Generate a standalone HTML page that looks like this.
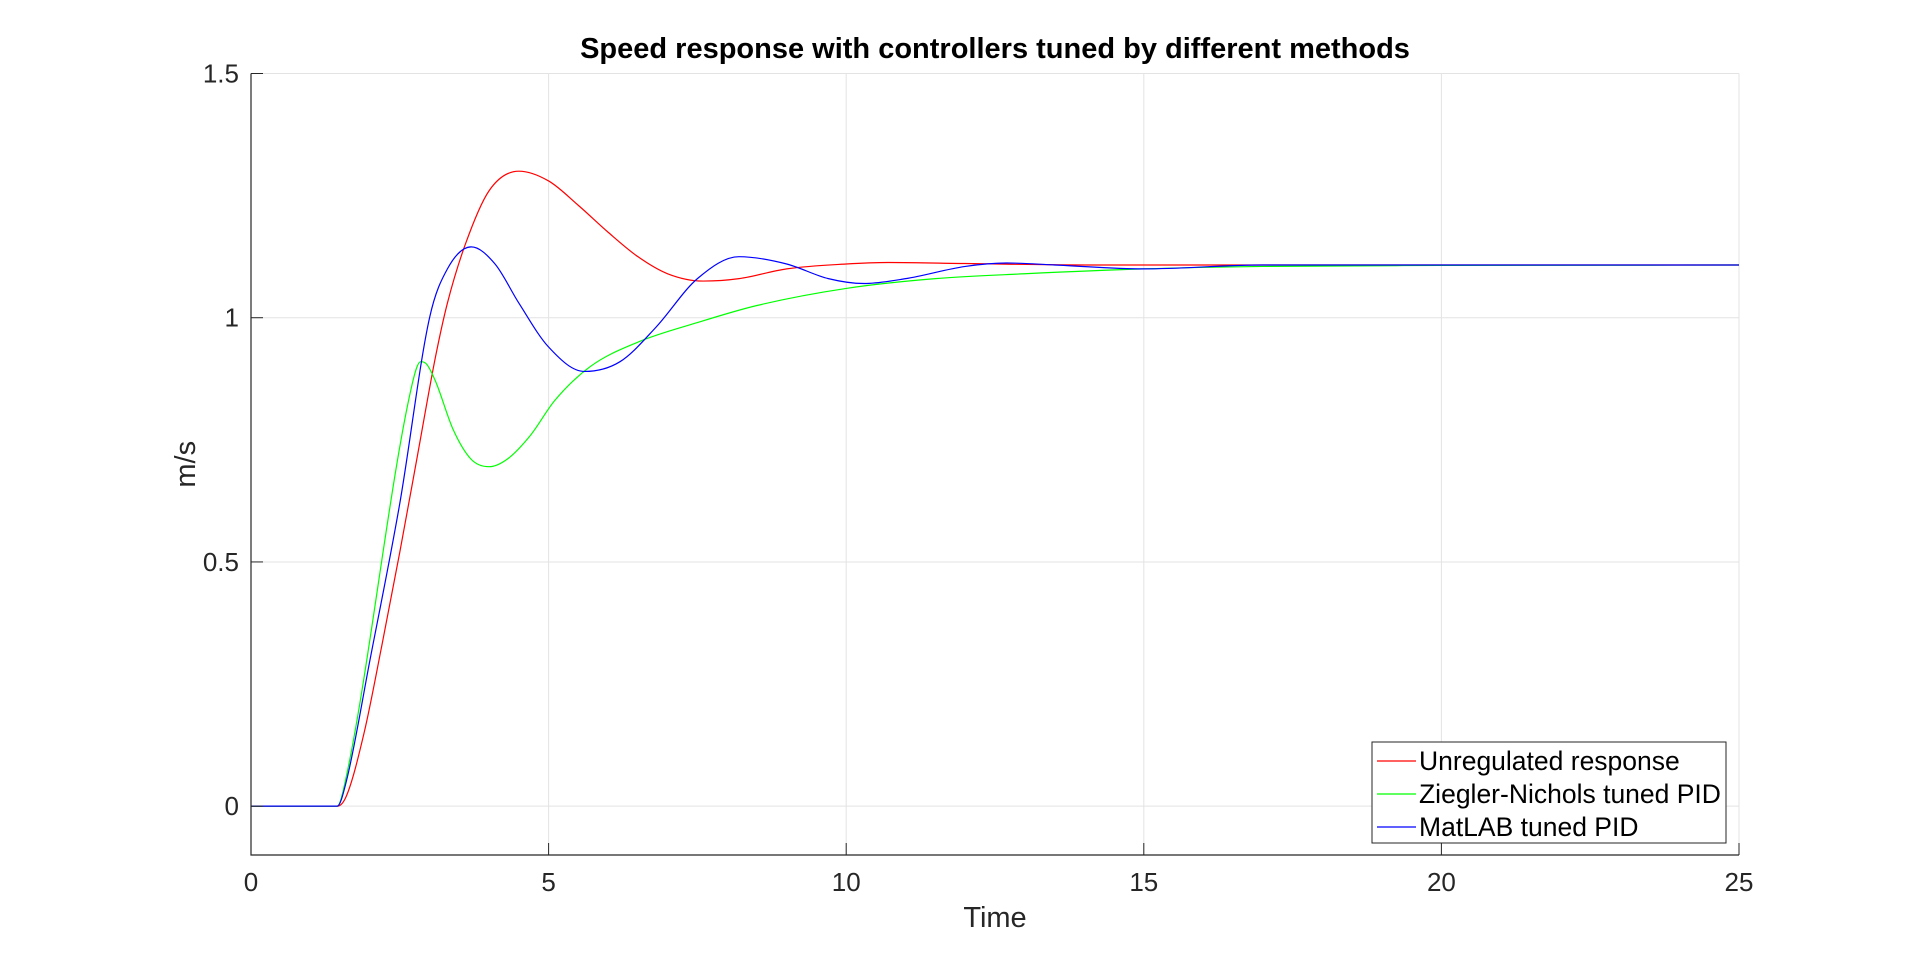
<!DOCTYPE html>
<html><head><meta charset="utf-8"><style>
html,body{margin:0;padding:0;background:#fff;}
svg{display:block;font-family:"Liberation Sans",Arial,sans-serif;}
</style></head><body>
<svg id="chart" width="1920" height="963" viewBox="0 0 1920 963"></svg>
<script>
const xTicks=[0,5,10,15,20,25];
const yTicks=[0,0.5,1,1.5];
const redT=[0,1.45,1.6,1.9,2.2,2.5,2.8,3.1,3.3,3.6,4.0,4.5,5.0,5.5,6.0,6.5,7.0,7.6,8.2,9,10,10.7,12,14,17,25];
const redV=[0,0,0.02,0.15,0.33,0.52,0.72,0.92,1.03,1.15,1.26,1.30,1.28,1.23,1.175,1.125,1.09,1.075,1.08,1.10,1.11,1.113,1.111,1.108,1.108,1.108];
const greenT=[0,1.45,1.6,2.7,2.85,2.95,3.1,3.4,3.7,4.0,4.3,4.7,5.1,5.7,6.5,7.5,8.5,10,11.5,13,15,17,20,25];
const greenV=[0,0,0.06,0.86,0.91,0.905,0.87,0.77,0.71,0.695,0.71,0.76,0.83,0.9,0.95,0.99,1.025,1.06,1.08,1.09,1.1,1.105,1.107,1.108];
const blueT=[0,1.45,1.6,2.0,2.5,3.0,3.3,3.7,4.1,4.5,5.0,5.6,6.2,6.8,7.5,8.2,9,9.7,10.3,11,12,12.7,13.5,15,17,25];
const blueV=[0,0,0.05,0.3,0.62,1.0,1.1,1.145,1.11,1.03,0.94,0.89,0.91,0.98,1.08,1.125,1.11,1.08,1.07,1.08,1.105,1.112,1.108,1.10,1.108,1.108];
const legendLabels=["Unregulated response","Ziegler-Nichols tuned PID","MatLAB tuned PID"];

const L=251,R=1739,T=73.5,B=855,xMin=0,xMax=25,yMin=-0.1,yMax=1.5;
const sx=v=>L+(v-xMin)/(xMax-xMin)*(R-L);
const sy=v=>B-(v-yMin)/(yMax-yMin)*(B-T);
const svg=document.getElementById('chart');
const NS='http://www.w3.org/2000/svg';
function mk(tag,attrs,parent){const e=document.createElementNS(NS,tag);for(const k in attrs)e.setAttribute(k,attrs[k]);(parent||svg).appendChild(e);return e;}

xTicks.forEach(t=>{const l=mk('line',{x1:sx(t),x2:sx(t),y1:T,y2:B,stroke:'#e3e3e3','stroke-width':1});

});
yTicks.forEach(t=>{const l=mk('line',{x1:L,x2:R,y1:sy(t),y2:sy(t),stroke:'#e3e3e3','stroke-width':1});

});

function path(ts,vs){
  const n=ts.length,x=ts.map(sx),y=vs.map(sy);
  const d=[],m=new Array(n);
  for(let i=0;i<n-1;i++)d.push((y[i+1]-y[i])/(x[i+1]-x[i]));
  m[0]=d[0];m[n-1]=d[n-2];
  for(let i=1;i<n-1;i++){m[i]=(d[i-1]*d[i]<=0)?0:(d[i-1]+d[i])/2;}
  for(let i=0;i<n-1;i++){
    if(d[i]===0){m[i]=0;m[i+1]=0;continue;}
    const a=m[i]/d[i],b=m[i+1]/d[i],s=a*a+b*b;
    if(s>9){const t=3/Math.sqrt(s);m[i]=t*a*d[i];m[i+1]=t*b*d[i];}
  }
  let p='M'+x[0]+','+y[0];
  for(let i=0;i<n-1;i++){
    const h=(x[i+1]-x[i])/3;
    p+=` C${x[i]+h},${y[i]+m[i]*h} ${x[i+1]-h},${y[i+1]-m[i+1]*h} ${x[i+1]},${y[i+1]}`;
  }
  return p;
}
const clip=mk('clipPath',{id:'pc'});mk('rect',{x:L,y:T,width:R-L,height:B-T},clip);
const series=[[redT,redV,'#ff0000','red-unregulated-line'],[greenT,greenV,'#00ff00','green-zn-pid-line'],[blueT,blueV,'#0000ff','blue-matlab-pid-line']];
series.forEach(s=>{const e=mk('path',{d:path(s[0],s[1]),fill:'none',stroke:s[2],'stroke-width':1.2,'clip-path':'url(#pc)'});

});

const ax=mk('path',{d:`M${L},${T} V${B} H${R}`,fill:'none',stroke:'#262626','stroke-width':1.2});


xTicks.forEach(t=>{
  mk('line',{x1:sx(t),x2:sx(t),y1:B,y2:B-12,stroke:'#262626'});
  const tx=mk('text',{x:sx(t),y:B+36,'text-anchor':'middle','font-size':26,fill:'#262626'});tx.textContent=t;
  
  
});
yTicks.forEach(t=>{
  mk('line',{x1:L,x2:L+12,y1:sy(t),y2:sy(t),stroke:'#262626'});
  const tx=mk('text',{x:L-12,y:sy(t)+9,'text-anchor':'end','font-size':26,fill:'#262626'});tx.textContent=t;
  
  
});
const title=mk('text',{x:(L+R)/2,y:58,'text-anchor':'middle','font-size':29,'font-weight':'bold',fill:'#000'});
title.textContent='Speed response with controllers tuned by different methods';


const xl=mk('text',{x:(L+R)/2,y:927,'text-anchor':'middle','font-size':29,fill:'#262626'});xl.textContent='Time';


const yl=mk('text',{x:0,y:0,'text-anchor':'middle','font-size':29,fill:'#262626',transform:`translate(195,${sy(0.7)}) rotate(-90)`});yl.textContent='m/s';



const lg=mk('g',{});


mk('rect',{x:1372,y:742,width:354,height:101,fill:'#fff',stroke:'#262626','stroke-width':1},lg);
legendLabels.forEach((lab,i)=>{
  const y=761+i*33;
  mk('line',{x1:1377,x2:1416,y1:y,y2:y,stroke:series[i][2],'stroke-width':1.2},lg);
  const tx=mk('text',{x:1419,y:y+9,'font-size':26.5,fill:'#000'},lg);tx.textContent=lab;
  
  
});
</script>
</body></html>
